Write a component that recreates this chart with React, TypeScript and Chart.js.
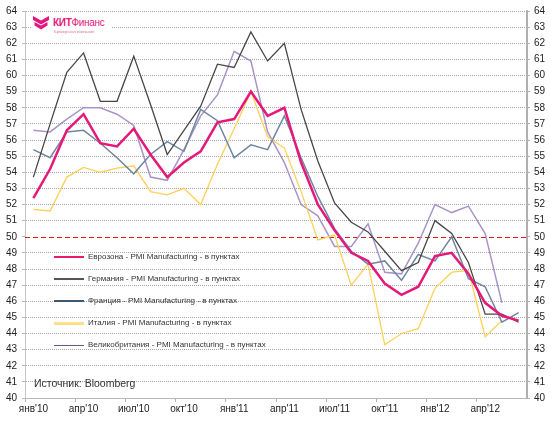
import React, { useEffect, useRef } from 'react';
import { Chart, registerables } from 'chart.js';

Chart.register(...registerables);

const categories = [
  "янв'10", "фев'10", "мар'10", "апр'10", "май'10", "июн'10", "июл'10", "авг'10", "сен'10", "окт'10", "ноя'10", "дек'10",
  "янв'11", "фев'11", "мар'11", "апр'11", "май'11", "июн'11", "июл'11", "авг'11", "сен'11", "окт'11", "ноя'11", "дек'11",
  "янв'12", "фев'12", "мар'12", "апр'12", "май'12", "июн'12",
];

const eurozone = [52.4, 54.2, 56.6, 57.6, 55.8, 55.6, 56.7, 55.1, 53.7, 54.6, 55.3, 57.1, 57.3, 59.0, 57.5, 58.0, 54.6, 52.0, 50.4, 49.0, 48.5, 47.1, 46.4, 46.9, 48.8, 49.0, 47.7, 45.9, 45.1, 44.8];
const germany = [53.7, 57.0, 60.2, 61.4, 58.4, 58.4, 61.2, 58.2, 55.1, 56.6, 58.1, 60.7, 60.5, 62.7, 60.9, 62.0, 57.9, 54.7, 52.1, 50.9, 50.3, 49.1, 47.9, 48.4, 51.0, 50.2, 48.4, 45.2, 45.2, 44.7];
const france = [55.4, 54.9, 56.5, 56.6, 55.8, 54.9, 53.9, 55.1, 55.9, 55.3, 57.9, 57.2, 54.9, 55.7, 55.4, 57.5, 54.9, 52.5, 50.5, 49.1, 48.3, 48.5, 47.3, 48.9, 48.5, 50.0, 47.4, 46.9, 44.7, 45.3];
const italy = [51.7, 51.6, 53.7, 54.3, 54.0, 54.25, 54.4, 52.8, 52.6, 53.0, 52.0, 54.5, 56.7, 59.0, 56.2, 55.5, 52.8, 49.8, 50.1, 47.0, 48.3, 43.3, 44.0, 44.3, 46.8, 47.8, 47.9, 43.8, 44.8, null];
const uk = [56.6, 56.5, 57.3, 58.0, 58.0, 57.6, 56.9, 53.7, 53.5, 55.4, 57.5, 58.8, 61.5, 60.9, 56.5, 54.6, 52.0, 51.3, 49.4, 49.4, 50.8, 47.8, 47.7, 49.6, 52.0, 51.5, 51.9, 50.2, 45.9, null];

const seriesNames = [
  'Еврозона - PMI Manufacturing - в пунктах',
  'Германия - PMI Manufacturing - в пунктах',
  'Франция - PMI Manufacturing - в пунктах',
  'Италия - PMI Manufacturing - в пунктах',
  'Великобритания  - PMI Manufacturing - в пунктах',
];
const seriesColors = ['#E5197A', '#474747', '#6F86A0', '#FFD054', '#A994C9'];
const seriesWidths = [2.5, 1.3, 1.5, 1.3, 1.5];
const legendColors = ['#E8196E', '#555555', '#3F5873', '#FFE08A', '#6B5A84'];
const legendWidths = [2.5, 1.5, 1.5, 3, 1];

const yMin = 40;
const yMax = 64;
const refValue = 50;

const FONT = "'Liberation Sans', Arial, sans-serif";

const refLinePlugin = {
  id: 'refLine',
  beforeDatasetsDraw(chart: any) {
    const { ctx, chartArea } = chart;
    const y = Math.round(chart.scales.y.getPixelForValue(refValue)) + 0.5;
    ctx.save();
    ctx.strokeStyle = '#E01818';
    ctx.lineWidth = 1;
    ctx.setLineDash([5, 3]);
    ctx.beginPath();
    ctx.moveTo(chartArea.left, y);
    ctx.lineTo(chartArea.right, y);
    ctx.stroke();
    ctx.restore();
  },
};

export default function App() {
  const canvasRef = useRef<HTMLCanvasElement | null>(null);

  useEffect(() => {
    const canvas = canvasRef.current;
    if (!canvas) return;
    const data = [eurozone, germany, france, italy, uk];
    const chart = new Chart(canvas, {
      type: 'line',
      data: {
        labels: categories,
        datasets: data.map((d, i) => ({
          label: seriesNames[i],
          data: d,
          borderColor: seriesColors[i],
          backgroundColor: seriesColors[i],
          borderWidth: seriesWidths[i],
          pointRadius: 0,
          tension: 0,
          fill: false,
          spanGaps: false,
        })),
      },
      options: {
        animation: false,
        responsive: false,
        maintainAspectRatio: false,
        layout: { padding: { top: 8, left: 0, right: 0, bottom: 0 } },
        plugins: { legend: { display: false }, tooltip: { enabled: false } },
        scales: {
          x: {
            type: 'category',
            offset: true,
            grid: {
              display: true,
              drawOnChartArea: false,
              drawTicks: true,
              tickLength: 4,
              offset: true,
              color: (c: any) => (c.index % 3 === 0 ? '#b0b0b0' : 'rgba(0,0,0,0)'),
              tickColor: (c: any) => (c.index % 3 === 0 ? '#b0b0b0' : 'rgba(0,0,0,0)'),
            },
            border: { display: true, color: '#b8b8b8', width: 1 },
            ticks: {
              autoSkip: false,
              maxRotation: 0,
              minRotation: 0,
              padding: 1,
              color: '#222',
              font: { family: FONT, size: 10 },
              callback: (_v: any, i: number) => (i % 3 === 0 ? categories[i] : ''),
            },
            afterFit: (s: any) => {
              s.height = 23;
            },
          },
          y: {
            position: 'left',
            min: yMin,
            max: yMax,
            ticks: {
              stepSize: 1,
              autoSkip: false,
              maxTicksLimit: 100,
              padding: 5,
              color: '#222',
              font: { family: FONT, size: 10 },
            },
            grid: {
              drawTicks: true,
              tickLength: 3,
              lineWidth: 1,
              color: (c: any) =>
                c.tick && (c.tick.value === refValue || c.tick.value === yMin) ? 'rgba(0,0,0,0)' : '#a6a6a6',
              tickColor: '#b8b8b8',
            },
            border: { display: true, color: '#c4c4c4', width: 1, dash: [1, 1] },
            afterFit: (s: any) => {
              s.width = 25;
            },
          },
          y2: {
            position: 'right',
            min: yMin,
            max: yMax,
            ticks: {
              stepSize: 1,
              autoSkip: false,
              maxTicksLimit: 100,
              padding: 4,
              color: '#222',
              font: { family: FONT, size: 10 },
            },
            grid: {
              drawOnChartArea: false,
              drawTicks: true,
              tickLength: 3,
              color: '#b0b0b0',
              tickColor: '#b0b0b0',
            },
            border: { display: true, color: '#b0b0b0', width: 2 },
            afterFit: (s: any) => {
              s.width = 23;
            },
          },
        },
      } as any,
      plugins: [refLinePlugin],
    });
    return () => chart.destroy();
  }, []);

  const legendTops = [257, 279, 301, 323, 345];

  return (
    <div style={{ position: 'absolute', left: 0, top: 0, width: 550, height: 421, background: '#fff', overflow: 'hidden' }}>
      <canvas ref={canvasRef} width={550} height={421} style={{ display: 'block', width: 550, height: 421 }} />
      {/* logo */}
      <div style={{ position: 'absolute', left: 32, top: 15, width: 80, height: 22, background: '#fff' }} />
      <svg style={{ position: 'absolute', left: 33, top: 16 }} width={16} height={14} viewBox="0 0 16 14">
        <polygon points="0,0 8,4.5 16,0 16,4 8,8.5 0,4" fill="#E5177E" />
        <polygon points="1.5,6 8,9.5 14.5,6 14.5,9.5 8,13.5 1.5,9.5" fill="#E5177E" />
      </svg>
      <div
        style={{
          position: 'absolute',
          left: 53,
          top: 17,
          fontFamily: FONT,
          fontSize: 10,
          lineHeight: '11px',
          color: '#E5177E',
          letterSpacing: -0.3,
          whiteSpace: 'nowrap',
        }}
      >
        <span style={{ fontWeight: 'bold' }}>КИТ</span>
        <span>Финанс</span>
      </div>
      <div
        style={{
          position: 'absolute',
          left: 54,
          top: 29,
          fontFamily: FONT,
          fontSize: 4,
          lineHeight: '5px',
          color: '#E56FA5',
          whiteSpace: 'nowrap',
        }}
      >
        Брокерская компания
      </div>
      {/* legend */}
      {seriesNames.map((name, i) => (
        <div key={name} style={{ position: 'absolute', left: 54, top: legendTops[i] - 6, height: 12, whiteSpace: 'nowrap' }}>
          <div
            style={{
              position: 'absolute',
              left: 0,
              top: 6 - legendWidths[i] / 2,
              width: 30,
              height: legendWidths[i],
              background: legendColors[i],
            }}
          />
          <div
            style={{
              position: 'absolute',
              left: 34,
              top: 0,
              fontFamily: FONT,
              fontSize: 8,
              lineHeight: '12px',
              color: '#333',
            }}
          >
            {name}
          </div>
        </div>
      ))}
      <div
        style={{
          position: 'absolute',
          left: 34,
          top: 377,
          fontFamily: FONT,
          fontSize: 10.5,
          lineHeight: '13px',
          color: '#333',
          whiteSpace: 'nowrap',
        }}
      >
        Источник: Bloomberg
      </div>
    </div>
  );
}
